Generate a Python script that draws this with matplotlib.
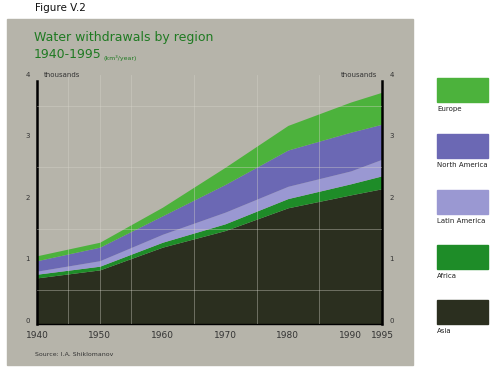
import numpy as np
import matplotlib.pyplot as plt
from matplotlib.patches import Rectangle

# water withdrawals, thousands km3/year, stacked bottom -> top
years = [1940, 1950, 1960, 1970, 1980, 1990, 1995]
asia = [0.70, 0.83, 1.20, 1.47, 1.84, 2.05, 2.15]
africa = [0.06, 0.06, 0.08, 0.11, 0.15, 0.18, 0.21]
latin_america = [0.05, 0.09, 0.13, 0.19, 0.20, 0.21, 0.27]
north_america = [0.17, 0.22, 0.30, 0.45, 0.59, 0.63, 0.57]
europe = [0.08, 0.08, 0.14, 0.28, 0.40, 0.49, 0.52]

regions = ['Asia', 'Africa', 'Latin America', 'North America', 'Europe']
colors = ['#2b2f1f', '#1e8c28', '#9a98d2', '#6b68b4', '#4cb23c']
xtick_labels = ['1940', '1950', '1960', '1970', '1980', '1990', '1995']
ytick_vals = [0, 1, 2, 3, 4]

W, H = 493, 371
fig = plt.figure(figsize=(W / 100, H / 100), dpi=100)
fig.patch.set_facecolor('white')

# gray panel
fig.patches.append(Rectangle((7 / W, 1 - 365 / H), 406 / W, 346 / H,
                             transform=fig.transFigure, color='#b6b4aa', zorder=-5))

ax = fig.add_axes([37 / W, 1 - 324 / H, 345 / W, 249 / H])
ax.set_facecolor('none')
ax.set_xlim(1940, 1995)
ax.set_ylim(-0.05, 4.0)

series = [asia, africa, latin_america, north_america, europe]
base = np.full(len(years), -0.05)
top = np.zeros(len(years))
for vals, c in zip(series, colors):
    top = top + np.array(vals)
    ax.fill_between(years, base, top, color=c, lw=0, zorder=2)
    base = top

# faint grid
for v in [0.5, 1.5, 2.5, 3.5]:
    ax.axhline(v, color='#d8d6cc', lw=0.6, alpha=0.45, zorder=3)
for yr in [1945, 1950, 1955, 1965, 1975, 1985]:
    ax.axvline(yr, color='#d8d6cc', lw=0.6, alpha=0.45, zorder=3)

ax.spines['top'].set_visible(False)
for s in ['left', 'right']:
    ax.spines[s].set_linewidth(1.8)
    ax.spines[s].set_bounds(-0.05, 3.9)
ax.spines['bottom'].set_linewidth(1.0)
ax.tick_params(length=0)
ax.set_yticks([])
ax.set_xticks(years)
ax.set_xticklabels(xtick_labels, fontsize=6.5, color='#333333')
ax.tick_params(axis='x', pad=5)

for v in ytick_vals:
    ax.text(-0.02, v, str(v), transform=ax.get_yaxis_transform(), ha='right',
            va='center', fontsize=5, color='#333333')
    ax.text(1.022, v, str(v), transform=ax.get_yaxis_transform(), ha='left',
            va='center', fontsize=5, color='#333333')
ax.text(0.02, 4.0, 'thousands', transform=ax.get_yaxis_transform(), ha='left',
        va='center', fontsize=5, color='#333333')
ax.text(0.985, 4.0, 'thousands', transform=ax.get_yaxis_transform(), ha='right',
        va='center', fontsize=5, color='#333333')

# titles
fig.text(35 / W, 1 - 8 / H, 'Figure V.2', fontsize=7.5, va='center', color='#111111')
fig.text(34 / W, 1 - 38 / H, 'Water withdrawals by region', fontsize=9,
         va='center', color='#1f7a22')
fig.text(34 / W, 1 - 55 / H, '1940-1995', fontsize=9, va='center', color='#1f7a22')
fig.text(104 / W, 1 - 58 / H, '(km\u00b3/year)', fontsize=4.5, va='center', color='#1f7a22')
fig.text(35 / W, 1 - 355 / H, 'Source: I.A. Shiklomanov', fontsize=4.5, va='center',
         color='#333333')

# legend boxes on the right
legend_top = [78, 134, 190, 245, 300]
for name, c, yt in zip(regions[::-1], colors[::-1], legend_top):
    fig.patches.append(Rectangle((437 / W, 1 - (yt + 24) / H), 51 / W, 24 / H,
                                 transform=fig.transFigure, color=c, zorder=1))
    fig.text(437 / W, 1 - (yt + 31) / H, name, fontsize=5, va='center', color='#222222')

fig.savefig('out.png', dpi=100)
